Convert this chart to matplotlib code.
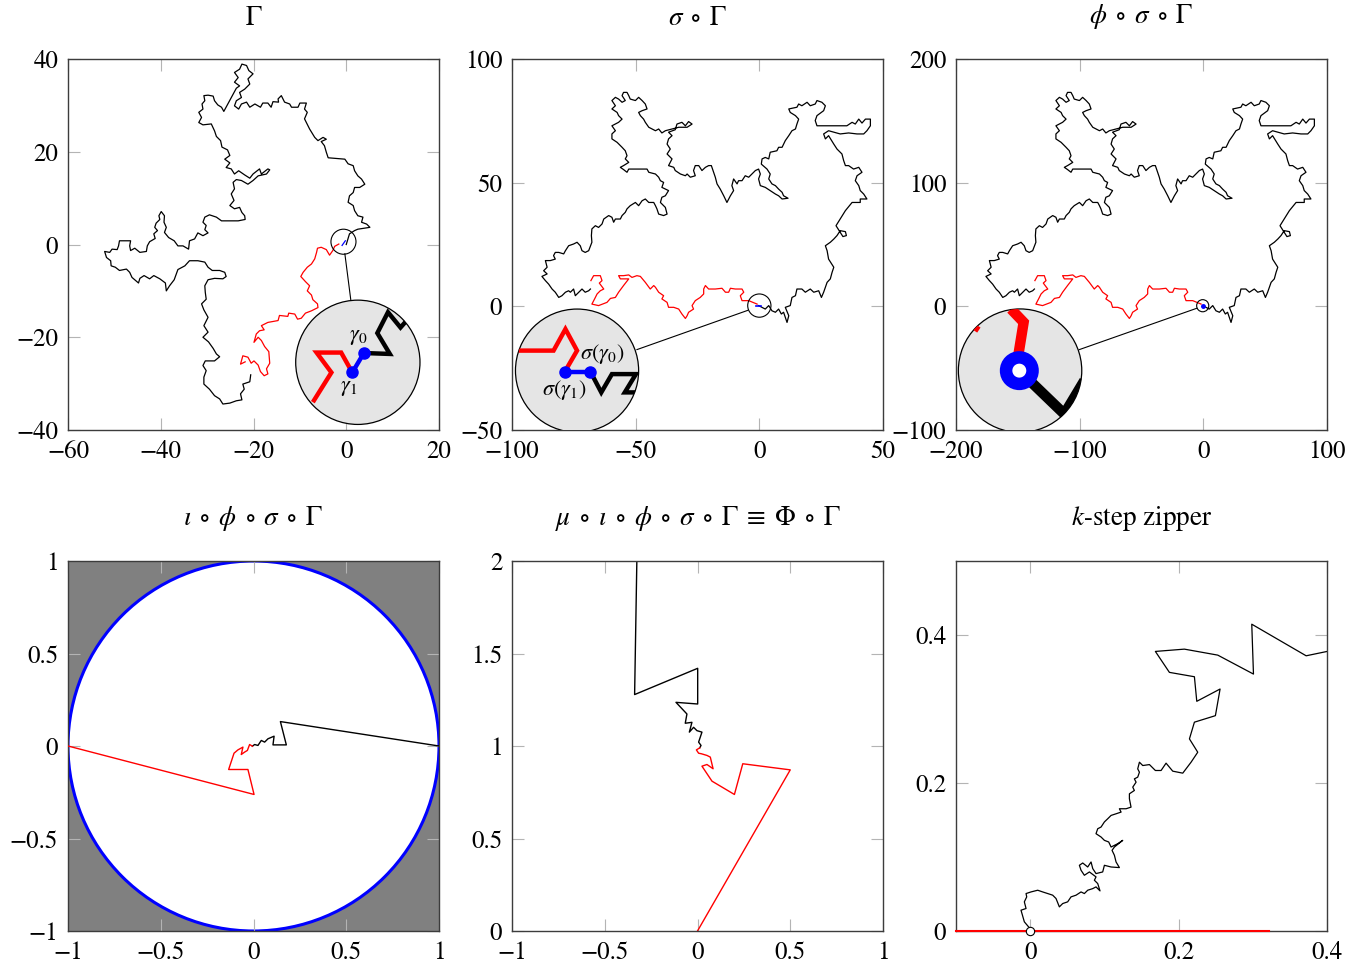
"""Conformal maps of a lattice exploration path and its k-step zipper image."""
import matplotlib
matplotlib.use("Agg")
import matplotlib.pyplot as plt
from matplotlib.patches import Circle
import numpy as np

plt.rcParams["font.family"] = "serif"
plt.rcParams["font.serif"] = ["STIXGeneral", "Liberation Serif", "DejaVu Serif"]
plt.rcParams["mathtext.fontset"] = "stix"

# ---------------------------------------------------------------- Gamma
gamma_black = [
    (0.0, 0.0), (0.7, 2.3), (1.8, 3.0), (2.5, 3.3), (5.1, 3.7), (4.4, 4.4), (3.3, 4.8), (3.6, 5.9),
    (2.5, 6.2), (1.8, 7.3), (1.5, 8.4), (0.4, 9.1), (0.7, 10.5), (1.5, 11.2), (1.8, 12.3), (2.9, 12.3),
    (4.0, 13.0), (3.3, 14.1), (2.5, 14.8), (1.8, 15.9), (1.5, 17.0), (0.4, 17.4), (-0.3, 18.4),
    (-3.9, 18.7), (-4.3, 19.9), (-4.7, 21.3), (-5.4, 22.2), (-4.3, 22.7), (-5.0, 23.1), (-6.1, 22.4),
    (-6.8, 23.1), (-7.9, 24.9), (-9.0, 27.1), (-8.4, 28.5), (-9.0, 29.2), (-8.6, 30.5), (-10.0, 30.5),
    (-10.4, 29.6), (-11.8, 29.6), (-12.2, 30.3), (-13.3, 30.7), (-14.0, 32.1), (-14.7, 31.4),
    (-14.6, 30.7), (-15.8, 30.8), (-16.2, 29.6), (-16.9, 30.5), (-18.0, 30.5), (-18.5, 29.6),
    (-19.7, 30.3), (-20.8, 29.6), (-21.5, 30.7), (-22.6, 30.3), (-23.2, 29.2), (-24.1, 29.9),
    (-23.7, 31.0), (-22.6, 31.7), (-23.0, 32.8), (-21.9, 33.5), (-20.8, 34.6), (-21.2, 35.7),
    (-20.1, 36.8), (-21.0, 37.5), (-21.5, 38.6), (-22.5, 38.9), (-23.0, 37.8), (-24.1, 37.1),
    (-23.3, 36.0), (-24.1, 35.0), (-23.0, 34.2), (-23.7, 33.7), (-26.4, 28.7), (-26.9, 29.6),
    (-27.7, 30.1), (-28.4, 31.0), (-28.7, 32.0), (-29.8, 32.2), (-30.7, 32.1), (-30.5, 31.0),
    (-31.1, 30.3), (-30.9, 29.2), (-31.8, 28.5), (-31.2, 27.4), (-31.8, 26.3), (-30.9, 25.8),
    (-29.1, 26.0), (-28.4, 24.5), (-28.0, 23.3), (-27.1, 22.4), (-26.8, 21.0), (-25.6, 20.4),
    (-25.1, 19.2), (-26.2, 18.4), (-25.1, 17.6), (-25.9, 16.6), (-24.8, 16.3), (-24.1, 15.2),
    (-23.2, 15.9), (-21.9, 15.0), (-20.8, 14.3), (-20.1, 15.2), (-18.7, 16.3), (-18.3, 15.2),
    (-16.9, 16.3), (-16.5, 16.1), (-17.2, 15.2), (-19.0, 14.8), (-20.1, 13.8), (-21.2, 13.0),
    (-22.6, 13.8), (-23.7, 14.0), (-24.4, 13.4), (-24.1, 12.0), (-24.8, 10.9), (-24.2, 9.5),
    (-25.1, 8.4), (-24.1, 7.7), (-23.0, 8.0), (-22.5, 6.9), (-21.9, 6.2), (-21.8, 5.4), (-23.3, 5.1),
    (-26.9, 5.1), (-28.0, 5.9), (-29.5, 6.4), (-30.5, 5.9), (-30.9, 4.8), (-30.2, 4.1), (-30.5, 3.2),
    (-29.8, 2.5), (-30.9, 1.9), (-32.0, 2.5), (-32.7, 1.2), (-33.8, 0.8), (-34.0, -1.0),
    (-35.2, -0.3), (-36.3, -0.3), (-37.1, 0.8), (-38.3, 1.5), (-39.2, 2.6), (-38.8, 3.7),
    (-39.3, 4.8), (-39.2, 6.2), (-39.9, 7.1), (-40.4, 6.2), (-40.2, 5.4), (-41.0, 4.6), (-41.3, 3.7),
    (-40.7, 3.0), (-41.5, 2.3), (-41.2, 1.3), (-42.4, 0.6), (-42.9, -0.3), (-43.1, -1.5),
    (-44.5, -1.7), (-45.6, -0.8), (-46.5, -1.3), (-46.7, -0.3), (-46.5, 0.8), (-47.9, 0.8),
    (-48.9, 0.8), (-49.1, -0.3), (-49.4, -1.1), (-50.5, -1.0), (-51.0, -1.7), (-52.1, -1.5),
    (-51.7, -2.8), (-50.8, -3.5), (-50.7, -4.6), (-49.8, -4.9), (-48.9, -5.6), (-47.4, -5.3),
    (-46.7, -6.0), (-46.2, -7.1), (-44.8, -8.3), (-44.5, -7.3), (-43.6, -6.7), (-42.4, -7.4),
    (-41.5, -6.7), (-40.2, -7.4), (-39.0, -8.3), (-38.8, -10.0), (-38.1, -8.9), (-37.1, -7.6),
    (-36.3, -5.4), (-34.8, -4.6), (-33.8, -3.5), (-32.0, -3.5), (-30.5, -3.8), (-29.8, -4.9),
    (-28.9, -5.6), (-27.3, -5.6), (-26.2, -6.0), (-25.9, -6.9), (-26.6, -7.4), (-28.4, -7.3),
    (-29.8, -7.6), (-30.5, -8.9), (-30.4, -10.3), (-30.2, -11.8), (-31.2, -12.8), (-30.7, -14.1),
    (-29.8, -15.7), (-30.7, -17.5), (-29.8, -18.9), (-30.9, -20.0), (-29.7, -21.0), (-28.7, -22.4),
    (-28.0, -23.6), (-27.3, -24.2), (-28.4, -25.1), (-30.4, -25.1), (-30.9, -26.1), (-30.2, -27.2),
    (-30.7, -28.6), (-30.7, -30.1), (-29.5, -31.2), (-28.4, -32.6), (-27.3, -33.3), (-26.6, -34.4),
    (-25.1, -34.2), (-23.7, -33.7), (-22.5, -33.5), (-22.8, -32.2), (-22.0, -31.2), (-22.3, -30.1),
    (-20.8, -29.6), (-20.6, -28.1),
]
gamma_red = [
    (-1.6, 0.1), (-2.5, -0.4), (-2.9, -1.3), (-3.6, -2.3), (-4.3, -1.1), (-5.4, -0.6), (-6.2, -0.8),
    (-6.4, -1.7), (-6.8, -3.1), (-7.5, -4.2), (-8.4, -4.9), (-9.3, -6.0), (-9.8, -6.9), (-8.8, -8.0),
    (-7.9, -8.9), (-8.4, -10.0), (-7.5, -10.9), (-7.2, -11.9), (-6.2, -12.8), (-6.1, -13.6),
    (-7.5, -14.3), (-8.8, -14.8), (-9.7, -15.9), (-10.5, -16.1), (-11.1, -15.0), (-12.4, -14.8),
    (-12.6, -15.5), (-14.4, -15.3), (-14.7, -16.4), (-16.9, -16.8), (-18.3, -17.5), (-17.7, -18.4),
    (-18.7, -18.6), (-19.4, -19.3), (-19.9, -21.1), (-19.0, -20.0), (-18.3, -20.7), (-17.6, -22.0),
    (-16.7, -23.1), (-16.5, -25.6), (-17.2, -26.8), (-16.9, -27.9), (-17.7, -28.3), (-18.5, -27.4),
    (-19.0, -26.0), (-19.9, -25.1), (-20.5, -25.6), (-21.2, -24.3), (-22.3, -24.0), (-22.8, -25.8),
    (-21.8, -25.3),
]
gamma_step = [(-0.9, -0.2), (-0.2, 0.8)]
# magnified view around gamma_0 / gamma_1
gamma_zoom_red = [(-7.2, -34.0), (-3.2, -27.6), (-6.4, -23.3), (-1.1, -23.3), (1.3, -27.6)]
gamma_zoom_blue = [(1.3, -27.6), (3.8, -23.4)]
gamma_zoom_black = [(3.8, -23.4), (9.4, -23.6), (6.7, -19.1), (9.0, -14.6), (11.7, -17.9), (14.0, -15.3)]

# ---------------------------------------------------------------- sigma o Gamma
sigma_black = [
    (-0.3, 0.3), (2.4, -1.1), (3.8, 0.3), (5.1, -1.8), (6.5, -2.4), (7.8, -1.1), (8.9, -3.1),
    (9.8, -2.4), (11.2, -6.5), (11.9, -3.8), (10.5, -0.4), (12.5, 0.3), (13.2, 3.6), (14.6, 4.3),
    (15.2, 7.0), (17.2, 7.0), (18.6, 5.7), (20.6, 7.0), (22.0, 5.7), (24.0, 6.3), (25.1, 3.6),
    (26.0, 5.7), (26.7, 7.7), (27.4, 9.7), (28.7, 11.1), (29.4, 13.7), (30.1, 15.8), (28.0, 19.1),
    (27.4, 22.5), (26.7, 24.5), (28.7, 25.9), (30.1, 27.2), (31.4, 28.6), (32.7, 30.6), (34.8, 30.2),
    (35.2, 28.6), (33.8, 28.2), (32.7, 29.9), (31.0, 32.6), (32.7, 35.3), (34.8, 38.7), (37.5, 42.0),
    (40.8, 42.0), (40.8, 43.4), (43.5, 43.4), (42.2, 45.4), (40.8, 46.8), (40.2, 48.8), (38.8, 50.8),
    (39.5, 52.8), (41.5, 54.2), (40.2, 56.2), (38.1, 55.5), (36.1, 56.9), (34.8, 56.9), (34.1, 58.9),
    (33.4, 61.6), (31.4, 63.6), (30.1, 65.6), (28.0, 69.0), (26.7, 67.7), (26.0, 69.7), (28.0, 71.0),
    (30.1, 70.4), (32.7, 69.7), (36.1, 70.1), (39.5, 69.7), (42.2, 69.7), (43.5, 71.0), (44.9, 73.0),
    (44.9, 75.7), (42.9, 75.7), (41.5, 74.1), (40.2, 75.7), (38.8, 73.7), (37.5, 74.4), (35.4, 73.0),
    (23.3, 73.0), (22.6, 75.1), (23.3, 77.1), (26.0, 79.1), (26.7, 81.1), (25.3, 82.5), (23.3, 83.2),
    (22.6, 81.8), (20.6, 81.1), (19.3, 82.5), (17.2, 81.1), (15.9, 81.8), (15.2, 80.5), (11.9, 79.8),
    (12.5, 78.4), (14.6, 77.1), (15.9, 75.7), (15.2, 73.7), (14.6, 71.7), (13.2, 71.0), (11.9, 69.0),
    (10.5, 67.0), (9.2, 64.3), (7.8, 64.3), (7.1, 62.9), (4.4, 62.3), (3.8, 59.6), (2.4, 60.2),
    (1.1, 59.6), (0.8, 57.5), (3.1, 55.5), (4.4, 53.5), (3.8, 51.5), (5.1, 49.5), (6.5, 48.8),
    (7.8, 47.4), (9.2, 46.1), (9.8, 44.7), (11.6, 43.7), (9.2, 43.4), (7.8, 44.7), (6.5, 45.4),
    (4.4, 46.8), (2.4, 48.1), (0.4, 48.8), (-0.3, 51.5), (0.4, 53.5), (-0.3, 55.5), (-1.6, 54.9),
    (-3.0, 53.5), (-4.3, 52.2), (-5.7, 52.8), (-7.0, 50.8), (-8.4, 50.8), (-9.0, 49.5), (-10.4, 51.5),
    (-11.1, 48.8), (-10.4, 46.8), (-11.7, 44.7), (-13.1, 42.0), (-14.4, 44.7), (-15.8, 47.4),
    (-17.1, 49.5), (-17.8, 52.2), (-18.5, 54.2), (-19.4, 56.9), (-20.5, 56.9), (-21.8, 56.2),
    (-23.2, 54.9), (-24.5, 56.9), (-25.9, 56.9), (-26.6, 54.9), (-25.9, 52.8), (-27.9, 52.2),
    (-29.2, 53.5), (-29.9, 52.8), (-31.9, 53.5), (-34.0, 54.9), (-34.6, 56.2), (-36.7, 56.9),
    (-35.3, 59.6), (-37.3, 61.6), (-36.0, 63.6), (-37.3, 65.6), (-36.7, 67.7), (-35.3, 69.0),
    (-36.7, 70.4), (-34.0, 71.4), (-33.3, 73.7), (-31.3, 74.4), (-29.9, 73.0), (-28.6, 74.7),
    (-27.2, 73.7), (-29.2, 72.4), (-32.6, 72.4), (-38.0, 71.0), (-39.4, 70.1), (-40.7, 71.7),
    (-42.0, 71.0), (-44.7, 72.4), (-46.1, 74.4), (-46.8, 75.7), (-48.1, 77.1), (-48.8, 78.4),
    (-47.4, 79.1), (-45.4, 79.8), (-46.1, 81.8), (-47.4, 83.2), (-48.8, 84.5), (-50.1, 83.2),
    (-52.2, 83.8), (-52.8, 85.2), (-53.5, 86.5), (-54.9, 86.5), (-55.5, 85.2), (-54.2, 83.2),
    (-55.5, 82.5), (-56.9, 83.8), (-58.2, 84.5), (-59.6, 83.2), (-58.2, 81.1), (-59.6, 79.8),
    (-57.5, 78.4), (-56.9, 77.1), (-55.5, 75.7), (-56.9, 74.4), (-59.6, 73.0), (-58.2, 71.0),
    (-59.6, 69.7), (-59.6, 67.7), (-57.5, 66.3), (-55.5, 64.3), (-54.2, 62.9), (-53.5, 60.9),
    (-54.2, 59.6), (-52.8, 58.2), (-54.9, 56.9), (-56.2, 56.2), (-54.9, 55.3), (-53.5, 54.2),
    (-52.8, 55.5), (-49.5, 55.5), (-45.4, 55.5), (-44.7, 54.2), (-42.0, 53.5), (-40.7, 52.2),
    (-40.0, 50.8), (-38.7, 50.1), (-39.4, 48.1), (-36.7, 46.8), (-38.0, 44.7), (-39.4, 44.1),
    (-40.0, 42.0), (-38.0, 40.0), (-37.3, 37.3), (-38.7, 36.7), (-40.7, 37.3), (-41.4, 39.4),
    (-42.0, 40.7), (-42.7, 42.0), (-44.7, 42.0), (-46.1, 43.4), (-47.4, 42.7), (-48.8, 40.7),
    (-50.1, 42.0), (-52.2, 40.7), (-53.5, 39.4), (-54.2, 38.0), (-55.5, 36.7), (-56.2, 35.3),
    (-58.2, 35.3), (-58.9, 34.0), (-59.6, 36.0), (-60.9, 36.7), (-62.9, 35.3), (-63.6, 33.3),
    (-65.0, 31.9), (-66.3, 32.6), (-67.7, 31.3), (-67.9, 28.6), (-67.7, 25.9), (-69.0, 22.5),
    (-70.4, 21.8), (-71.7, 22.5), (-72.4, 24.5), (-73.7, 25.9), (-75.1, 25.2), (-77.1, 24.5),
    (-78.4, 22.5), (-79.1, 21.2), (-81.1, 21.8), (-82.5, 21.8), (-83.2, 20.5), (-82.5, 19.1),
    (-84.5, 18.5), (-86.5, 18.5), (-85.8, 15.8), (-87.2, 14.4), (-85.8, 13.1), (-87.9, 12.1),
    (-86.5, 10.4), (-85.2, 9.0), (-83.8, 7.0), (-82.5, 5.7), (-81.1, 3.6), (-79.8, 4.3),
    (-78.4, 5.7), (-77.1, 6.3), (-76.4, 5.7), (-75.1, 7.0), (-74.4, 4.3), (-73.0, 5.7),
    (-71.7, 7.0), (-70.4, 5.7), (-69.0, 6.3), (-68.3, 7.0),
]
sigma_red = [
    (-68.1, 10.4), (-67.0, 12.4), (-64.3, 12.4), (-63.6, 10.4), (-64.7, 9.4), (-62.9, 7.0),
    (-64.3, 6.3), (-65.6, 5.0), (-66.6, 3.0), (-67.7, 0.9), (-65.0, 0.3), (-61.6, 1.6), (-60.2, 3.2),
    (-58.2, 3.6), (-56.9, 5.7), (-54.9, 8.4), (-52.8, 11.1), (-56.2, 11.1), (-56.9, 12.4),
    (-54.9, 12.4), (-52.8, 12.7), (-51.5, 11.7), (-49.5, 12.4), (-48.1, 12.1), (-46.1, 9.7),
    (-44.1, 7.0), (-42.7, 8.4), (-42.0, 7.7), (-40.7, 5.7), (-38.7, 4.3), (-39.4, 3.0), (-37.3, 1.6),
    (-36.7, -0.4), (-34.6, -0.4), (-32.6, -1.1), (-31.3, -3.1), (-29.9, -4.9), (-29.2, -3.8),
    (-28.6, -2.4), (-26.6, -1.1), (-27.2, 0.3), (-25.9, 2.3), (-23.9, 3.6), (-22.5, 5.0),
    (-22.5, 7.0), (-21.8, 8.4), (-20.5, 7.0), (-17.8, 7.0), (-15.1, 7.3), (-13.7, 5.7),
    (-12.4, 5.7), (-11.7, 7.3), (-9.7, 7.0), (-7.0, 7.0), (-6.3, 5.7), (-7.7, 4.3), (-7.0, 2.3),
    (-4.3, 2.3), (-0.9, 0.9),
]
sigma_step = [(-1.2, 0.3), (0.8, 0.3)]
sigma_zoom_red = [(-97.3, -17.9), (-83.2, -17.9), (-78.4, -9.2), (-73.7, -17.9), (-78.4, -26.0)]
sigma_zoom_blue = [(-78.4, -26.4), (-68.3, -26.4)]
sigma_zoom_black = [(-68.3, -26.4), (-63.9, -34.8), (-59.6, -27.4), (-49.9, -27.4), (-54.4, -34.8), (-47.4, -34.8)]

# ---------------------------------------------------------------- phi o sigma o Gamma
# away from the seam phi reads as a plain doubling of sigma o Gamma
phi_scale = 2.0
phi_zoom_red = [(-155.5, -2.2), (-145.3, -12.9), (-150.1, -42.6)]
phi_zoom_red_tip = [(-185.2, -19.7), (-182.5, -15.6)]
phi_zoom_black = [(-148.8, -52.0), (-112.4, -87.1), (-96.2, -60.1)]
phi_zoom_ring = (-148.8, -52.0)

# ---------------------------------------------------------------- iota o phi o sigma o Gamma
iota_black = [
    (1.0, 0.0), (0.145, 0.132), (0.177, 0.006), (0.105, 0.006), (0.111, 0.053), (0.078, 0.039),
    (0.060, 0.021), (0.042, 0.030), (0.024, 0.003), (0.006, 0.008), (-0.006, -0.001),
]
iota_red = [
    (-1.0, 0.0), (0.003, -0.262), (-0.030, -0.127), (-0.134, -0.127), (-0.105, -0.039),
    (-0.084, -0.021), (-0.057, -0.006), (-0.066, -0.046), (-0.048, -0.033), (-0.033, -0.024),
    (-0.021, 0.008), (-0.006, -0.001),
]

# ---------------------------------------------------------------- mu o ... = Phi o Gamma
mu_black = [
    (-0.322, 2.3), (-0.339, 1.278), (0.001, 1.420), (0.001, 1.227), (-0.116, 1.236),
    (-0.057, 1.173), (-0.066, 1.123), (-0.030, 1.128), (-0.044, 1.075), (-0.021, 1.101),
    (-0.003, 1.083), (0.024, 1.075), (0.015, 1.048), (0.006, 1.021), (0.019, 1.003), (0.012, 0.990),
]
mu_red = [
    (0.0, 0.0), (0.500, 0.871), (0.244, 0.904), (0.199, 0.738), (0.078, 0.810), (0.024, 0.891),
    (0.051, 0.900), (0.084, 0.877), (0.069, 0.940), (0.051, 0.949), (0.021, 0.958),
    (0.006, 0.961), (-0.006, 0.979), (0.012, 0.990),
]

# ---------------------------------------------------------------- k-step zipper
zipper_black = [
    (0.0, 0.003), (-0.0079, 0.0124), (-0.0124, 0.0281), (-0.0056, 0.0304), (-0.0079, 0.0394),
    (-0.0047, 0.0461), (-0.0056, 0.0506), (0.0011, 0.0528), (0.0101, 0.0551), (0.0168, 0.0528),
    (0.0236, 0.0506), (0.0303, 0.0484), (0.0348, 0.0439), (0.0393, 0.0326), (0.0438, 0.0371),
    (0.0505, 0.0394), (0.0550, 0.0461), (0.0618, 0.0484), (0.0685, 0.0528), (0.0730, 0.0506),
    (0.0775, 0.0551), (0.0843, 0.0573), (0.0887, 0.0596), (0.0941, 0.0542), (0.0910, 0.0641),
    (0.0865, 0.0686), (0.0887, 0.0731), (0.0798, 0.0798), (0.0730, 0.0753), (0.0685, 0.0821),
    (0.0663, 0.0888), (0.0708, 0.0919), (0.0775, 0.0865), (0.0820, 0.0933), (0.0843, 0.0843),
    (0.0887, 0.0776), (0.0977, 0.0798), (0.1000, 0.0888), (0.1090, 0.0865), (0.1202, 0.0857),
    (0.1157, 0.0933), (0.1135, 0.1023), (0.1103, 0.1090), (0.1135, 0.1135), (0.1247, 0.1225),
    (0.1180, 0.1180), (0.1090, 0.1135), (0.1058, 0.1203), (0.1000, 0.1225), (0.0955, 0.1270),
    (0.0887, 0.1315), (0.0910, 0.1382), (0.0955, 0.1405), (0.1000, 0.1474), (0.1045, 0.1517),
    (0.1090, 0.1562), (0.1157, 0.1584), (0.1225, 0.1607), (0.1202, 0.1652), (0.1292, 0.1652),
    (0.1359, 0.1674), (0.1337, 0.1787), (0.1337, 0.1854), (0.1404, 0.1899), (0.1382, 0.1944),
    (0.1427, 0.2011), (0.1404, 0.2056), (0.1449, 0.2079), (0.1472, 0.2146), (0.1449, 0.2191),
    (0.1472, 0.2281), (0.1517, 0.2236), (0.1607, 0.2249), (0.1687, 0.2169), (0.1764, 0.2169),
    (0.1831, 0.2268), (0.1921, 0.2160), (0.2056, 0.2133), (0.2168, 0.2281), (0.2258, 0.2416),
    (0.2146, 0.2596), (0.2213, 0.2822), (0.2496, 0.2910), (0.2559, 0.3270), (0.2245, 0.3104),
    (0.2213, 0.3436), (0.1876, 0.3495), (0.1687, 0.3778), (0.2078, 0.3809), (0.2528, 0.3728),
    (0.3009, 0.3472), (0.2986, 0.4146), (0.3719, 0.3719), (0.4002, 0.3778),
]
zipper_red = [(-0.1, 0.0), (0.322, 0.0)]

TITLES = [
    r"$\Gamma$",
    r"$\sigma\;\circ\;\Gamma$",
    r"$\phi\;\circ\;\sigma\;\circ\;\Gamma$",
    r"$\iota\;\circ\;\phi\;\circ\;\sigma\;\circ\;\Gamma$",
    r"$\mu\;\circ\;\iota\;\circ\;\phi\;\circ\;\sigma\;\circ\;\Gamma\;\equiv\;\Phi\;\circ\;\Gamma$",
    r"$k$-step zipper",
]


def xy(points, scale=1.0):
    arr = np.asarray(points, dtype=float) * scale
    return arr[:, 0], arr[:, 1]


def fmt(v):
    s = f"{v:g}"
    return s.replace("-", "\u2212")


def style(ax, xlim, ylim, xticks, yticks, title):
    ax.set_xlim(*xlim)
    ax.set_ylim(*ylim)
    ax.set_xticks(xticks)
    ax.set_xticklabels([fmt(t) for t in xticks])
    ax.set_yticks(yticks)
    ax.set_yticklabels([fmt(t) for t in yticks])
    ax.tick_params(direction="in", top=True, right=True, length=8.5, width=0.8,
                   color="#b4b4b4", labelsize=18, labelcolor="black")
    ax.tick_params(axis="x", pad=7)
    ax.tick_params(axis="y", pad=7)
    for sp in ax.spines.values():
        sp.set_color("#3c3c3c")
        sp.set_linewidth(1.0)
    ax.set_title(title, fontsize=19.5, pad=20, va="bottom")


def magnifier(ax, small_c, small_r, big_c, big_r, link):
    ax.add_patch(Circle(small_c, small_r, fill=False, ec="black", lw=0.8, zorder=3))
    lx, ly = xy(link)
    ax.plot(lx, ly, color="black", lw=0.8, zorder=3)
    disk = Circle(big_c, big_r, fc="#e5e5e5", ec="black", lw=0.9, zorder=4)
    ax.add_patch(disk)
    return disk


def thick(ax, points, color, lw, disk, scale=1.0):
    px, py = xy(points, scale)
    (ln,) = ax.plot(px, py, color=color, lw=lw, zorder=5, solid_joinstyle="miter",
                    solid_capstyle="butt")
    ln.set_clip_path(disk)
    return ln


fig = plt.figure(figsize=(13.62, 9.65), dpi=100)
cols = [68 / 1362, 512 / 1362, 956 / 1362]
w = 371 / 1362
top_y, top_h = (965 - 430) / 965, 371 / 965
bot_y, bot_h = (965 - 931) / 965, 370 / 965
axes = [fig.add_axes([c, top_y, w, top_h]) for c in cols] + \
       [fig.add_axes([c, bot_y, w, bot_h]) for c in cols]
ax1, ax2, ax3, ax4, ax5, ax6 = axes

# --- Gamma
style(ax1, (-60, 20), (-40, 40), [-60, -40, -20, 0, 20], [-40, -20, 0, 20, 40], TITLES[0])
ax1.plot(*xy(gamma_black), color="black", lw=0.9)
ax1.plot(*xy(gamma_red), color="red", lw=0.9)
ax1.plot(*xy(gamma_step), color="blue", lw=0.9)
disk = magnifier(ax1, (-0.6, 0.6), 2.7, (2.5, -25.4), 13.4, [(-0.3, -2.0), (1.0, -12.1)])
thick(ax1, gamma_zoom_red, "red", 3.2, disk)
thick(ax1, gamma_zoom_black, "black", 3.2, disk)
thick(ax1, gamma_zoom_blue, "blue", 3.2, disk)
bx, by = xy(gamma_zoom_blue)
ax1.plot(bx, by, "o", color="blue", ms=8, zorder=6)
ax1.text(2.5, -19.9, r"$\gamma_0$", fontsize=16, ha="center", va="center", zorder=7)
ax1.text(0.6, -30.9, r"$\gamma_1$", fontsize=16, ha="center", va="center", zorder=7)

# --- sigma o Gamma
style(ax2, (-100, 50), (-50, 100), [-100, -50, 0, 50], [-50, 0, 50, 100], TITLES[1])
ax2.plot(*xy(sigma_black), color="black", lw=0.9)
ax2.plot(*xy(sigma_red), color="red", lw=0.9)
ax2.plot(*xy(sigma_step), color="blue", lw=1.2)
disk = magnifier(ax2, (0.0, 0.3), 4.7, (-73.7, -26.0), 24.9, [(-49.5, -17.5), (-4.6, -1.6)])
thick(ax2, sigma_zoom_red, "red", 3.2, disk)
thick(ax2, sigma_zoom_black, "black", 3.2, disk)
thick(ax2, sigma_zoom_blue, "blue", 3.2, disk)
bx, by = xy(sigma_zoom_blue)
ax2.plot(bx, by, "o", color="blue", ms=8, zorder=6)
ax2.text(-63.5, -19.4, r"$\sigma(\gamma_0)$", fontsize=16, ha="center", va="center", zorder=7)
ax2.text(-79.0, -34.0, r"$\sigma(\gamma_1)$", fontsize=16, ha="center", va="center", zorder=7)

# --- phi o sigma o Gamma
style(ax3, (-200, 100), (-100, 200), [-200, -100, 0, 100], [-100, 0, 100, 200], TITLES[2])
ax3.plot(*xy(sigma_black, phi_scale), color="black", lw=0.9)
ax3.plot(*xy(sigma_red, phi_scale), color="red", lw=0.9)
ax3.plot([-0.5], [0.5], "o", color="blue", ms=2.5, zorder=3)
disk = magnifier(ax3, (-0.5, 0.5), 4.9, (-148.2, -52.0), 49.9, [(-100.3, -35.0), (-5.4, -1.6)])
thick(ax3, phi_zoom_red, "red", 7.5, disk)
thick(ax3, phi_zoom_red_tip, "red", 5, disk)
thick(ax3, phi_zoom_black, "black", 7.5, disk)
ring = Circle(phi_zoom_ring, 10.7, fc="white", ec="blue", lw=9, zorder=6)
ax3.add_patch(ring)
ring.set_clip_path(disk)

# --- iota o phi o sigma o Gamma
style(ax4, (-1, 1), (-1, 1), [-1, -0.5, 0, 0.5, 1], [-1, -0.5, 0, 0.5, 1], TITLES[3])
ax4.set_facecolor("#808080")
ax4.add_patch(Circle((0, 0), 1, fc="white", ec="blue", lw=2.2, zorder=1))
ax4.plot(*xy(iota_black), color="black", lw=1.0, zorder=3)
ax4.plot(*xy(iota_red), color="red", lw=1.0, zorder=3)

# --- Phi o Gamma
style(ax5, (-1, 1), (0, 2), [-1, -0.5, 0, 0.5, 1], [0, 0.5, 1, 1.5, 2], TITLES[4])
ax5.plot(*xy(mu_black), color="black", lw=1.0)
ax5.plot(*xy(mu_red), color="red", lw=1.0)

# --- k-step zipper
style(ax6, (-0.1, 0.4), (0, 0.5), [0, 0.2, 0.4], [0, 0.2, 0.4], TITLES[5])
ax6.plot(*xy(zipper_black), color="black", lw=0.9)
ax6.plot(*xy(zipper_red), color="red", lw=1.5, clip_on=False, zorder=5)
ax6.plot([0], [0], "o", ms=6, mfc="white", mec="black", mew=0.8, clip_on=False, zorder=6)

fig.savefig("out.png", dpi=100, facecolor="white")
